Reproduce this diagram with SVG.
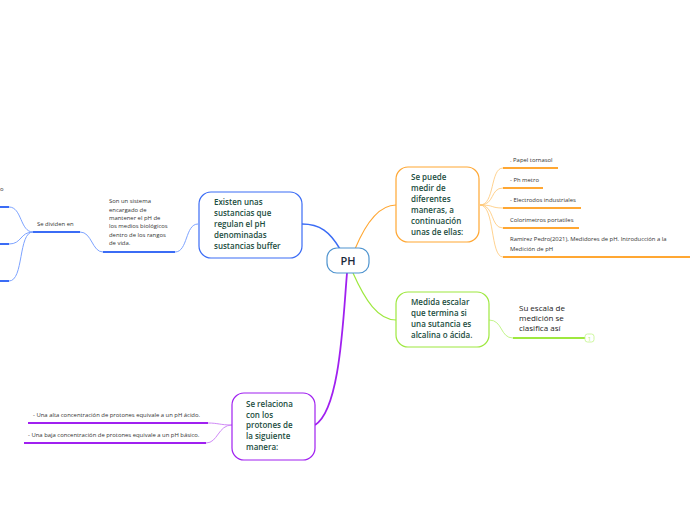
<svg xmlns="http://www.w3.org/2000/svg" width="696" height="520" viewBox="0 0 696 520">
<style>
.nt{font-family:"Open Sans","Noto Sans",sans-serif;font-size:8px;font-weight:600;fill:#1b4d3e}
.st{font-family:"Open Sans","Noto Sans",sans-serif;font-size:5.9px;fill:#333}
.mt{font-family:"Open Sans","Noto Sans",sans-serif;font-size:8px;fill:#222}
.c{fill:none}
</style>
<rect width="696" height="520" fill="#fff"/>
<g id="connectors">
  <path class="c" d="M340,249 C330,232 320,224 302,224" stroke="#3b6cf5" stroke-width="1.5"/>
  <path class="c" d="M355,249 C365,225 378,205 396,205" stroke="#ffa733" stroke-width="1.2"/>
  <path class="c" d="M353,273 C365,300 378,320 396,320" stroke="#9ee83f" stroke-width="1.2"/>
  <path class="c" d="M347,273 C343,320 340,410 315,425" stroke="#a020f0" stroke-width="1.8"/>
  <path class="c" d="M198,224 C185,224 188,252 175,252" stroke="#7da3ff" stroke-width="1"/>
  <line x1="103" y1="252" x2="175" y2="252" stroke="#3b6cf5" stroke-width="2"/>
  <path class="c" d="M103,252 C92,252 92,232 80,232" stroke="#7da3ff" stroke-width="1"/>
  <line x1="33" y1="232" x2="80" y2="232" stroke="#3b6cf5" stroke-width="2"/>
  <path class="c" d="M33,232 C20,232 22,207 9,207" stroke="#7da3ff" stroke-width="1"/>
  <path class="c" d="M33,232 C20,232 22,244 9,244" stroke="#7da3ff" stroke-width="1"/>
  <path class="c" d="M33,232 C18,232 24,281 9,281" stroke="#7da3ff" stroke-width="1"/>
  <line x1="0" y1="207" x2="9" y2="207" stroke="#3b6cf5" stroke-width="2"/>
  <line x1="0" y1="244" x2="9" y2="244" stroke="#3b6cf5" stroke-width="2"/>
  <line x1="0" y1="281" x2="9" y2="281" stroke="#3b6cf5" stroke-width="2"/>
  <g stroke="#ffc673" stroke-width="0.8" fill="none">
    <path d="M480,205 C495,205 490,168 503,168"/>
    <path d="M480,205 C495,205 490,188 503,188"/>
    <path d="M480,205 C495,205 490,208 503,208"/>
    <path d="M480,205 C495,205 490,228 503,228"/>
    <path d="M480,205 C495,205 490,257 503,257"/>
  </g>
  <g stroke="#ffa733" stroke-width="1.8">
    <line x1="503" y1="168" x2="558" y2="168"/>
    <line x1="503" y1="188" x2="543" y2="188"/>
    <line x1="503" y1="208" x2="581" y2="208"/>
    <line x1="503" y1="228" x2="579" y2="228"/>
    <line x1="503" y1="257" x2="690" y2="257"/>
  </g>
  <path class="c" d="M489,320 C503,320 500,338 513,338" stroke="#c2f58a" stroke-width="1"/>
  <line x1="513" y1="338" x2="585" y2="338" stroke="#9ee83f" stroke-width="1.8"/>
  <path class="c" d="M232,425 C220,425 218,423 208,423" stroke="#d08af7" stroke-width="1"/>
  <path class="c" d="M232,425 C218,425 218,443 206,443" stroke="#d08af7" stroke-width="1"/>
  <line x1="28" y1="423" x2="208" y2="423" stroke="#a020f0" stroke-width="2"/>
  <line x1="24" y1="443" x2="206" y2="443" stroke="#a020f0" stroke-width="2"/>
</g>
<g id="ph">
  <rect x="327" y="248" width="42" height="25" rx="10" fill="#fff" stroke="#4f94cf" stroke-width="1.2"/>
  <text x="348" y="265" text-anchor="middle" font-family="Open Sans, sans-serif" font-size="11" font-weight="600" fill="#1a2a3a">PH</text>
</g>
<g id="buffer">
  <rect x="199" y="192" width="103" height="66" rx="12" fill="#fff" stroke="#3b6cf5" stroke-width="1.2"/>
  <text class="nt"><tspan x="214" y="205">Existen unas</tspan><tspan x="214" y="216">sustancias que</tspan><tspan x="214" y="227">regulan el pH</tspan><tspan x="214" y="238">denominadas</tspan><tspan x="214" y="249">sustancias buffer</tspan></text>
</g>
<g id="buffer-desc">
  <text class="st"><tspan x="109" y="203">Son un sistema</tspan><tspan x="109" y="212">encargado de</tspan><tspan x="109" y="220">mantener el pH de</tspan><tspan x="109" y="228">los medios biológicos</tspan><tspan x="109" y="237">dentro de los rangos</tspan><tspan x="109" y="245">de vida.</tspan></text>
</g>
<g id="dividen">
  <text class="st" x="37" y="226">Se dividen en</text>
  <text class="st" x="0" y="191">o</text>
</g>
<g id="medir">
  <rect x="396" y="167" width="83" height="75" rx="12" fill="#fff" stroke="#ffa733" stroke-width="1.2"/>
  <text class="nt"><tspan x="411" y="180">Se puede</tspan><tspan x="411" y="191">medir de</tspan><tspan x="411" y="202">diferentes</tspan><tspan x="411" y="213">maneras, a</tspan><tspan x="411" y="224">continuación</tspan><tspan x="411" y="235">unas de ellas:</tspan></text>
</g>
<g id="items-orange">
  <text class="st" x="510" y="162">. Papel tornasol</text>
  <text class="st" x="510" y="182">- Ph metro</text>
  <text class="st" x="510" y="202">- Electrodos industriales</text>
  <text class="st" x="510" y="222">Colorimetros portatiles</text>
  <text class="st"><tspan x="510" y="241">Ramirez Pedro(2021), Medidores de pH. Introducción a la</tspan><tspan x="510" y="251">Medición de pH</tspan></text>
</g>
<g id="medida">
  <rect x="396" y="292" width="93" height="55" rx="12" fill="#fff" stroke="#9ee83f" stroke-width="1.2"/>
  <text class="nt"><tspan x="411" y="305">Medida escalar</tspan><tspan x="411" y="316">que termina si</tspan><tspan x="411" y="327">una sutancia es</tspan><tspan x="411" y="338">alcalina o ácida.</tspan></text>
</g>
<g id="escala">
  <text class="mt"><tspan x="519" y="311">Su escala de</tspan><tspan x="519" y="321">medición se</tspan><tspan x="519" y="331">clasifica así</tspan></text>
  <rect x="585" y="334" width="9" height="8" rx="2.5" fill="#fff" stroke="#c2f58a" stroke-width="0.8"/>
  <text x="589.5" y="340.5" text-anchor="middle" font-family="Open Sans, sans-serif" font-size="5" fill="#9ee83f">1</text>
</g>
<g id="relaciona">
  <rect x="232" y="393" width="83" height="67" rx="12" fill="#fff" stroke="#a020f0" stroke-width="1.2"/>
  <text class="nt"><tspan x="246" y="407">Se relaciona</tspan><tspan x="246" y="418">con los</tspan><tspan x="246" y="428">protones de</tspan><tspan x="246" y="439">la siguiente</tspan><tspan x="246" y="450">manera:</tspan></text>
</g>
<g id="items-purple">
  <text class="st" x="33" y="417">- Una alta concentración de protones equivale a un pH ácido.</text>
  <text class="st" x="28" y="437">- Una baja concentración de protones equivale a un pH básico.</text>
</g>
</svg>
